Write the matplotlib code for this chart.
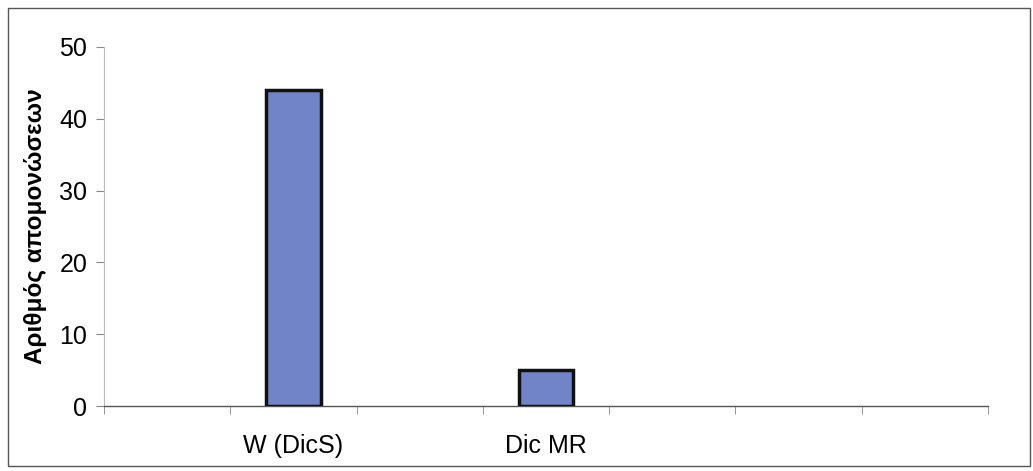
import matplotlib
matplotlib.use("Agg")
import matplotlib.pyplot as plt
from matplotlib.patches import Rectangle
import numpy as np

categories = ["", "W (DicS)", "", "Dic MR", "", "", ""]
values = [0, 44, 0, 5, 0, 0, 0]
yticks = [0, 10, 20, 30, 40, 50]
ylabel = "Αριθμός απομονώσεων"

plt.rcParams['font.family'] = ['Liberation Sans', 'DejaVu Sans']

fig = plt.figure(figsize=(10.33, 4.71), dpi=100)
ax = fig.add_axes([104/1033, 1-406/471, (988-104)/1033, (406-47)/471])

x = np.arange(len(categories))
mask = [v > 0 for v in values]
ax.bar(x[mask], np.array(values)[mask], width=0.43, color="#7184c8",
       edgecolor="#111111", linewidth=2.5, zorder=3)

ax.set_xlim(-0.5, len(categories) - 0.5)
ax.set_ylim(0, 50)
ax.set_yticks(yticks)
ax.set_xticks(x)
ax.set_xticklabels(categories, fontsize=18)
ax.set_xticks(np.arange(len(categories) + 1) - 0.5, minor=True)
ax.tick_params(axis="x", which="major", length=0, pad=20)
ax.tick_params(axis="x", which="minor", length=6, color="#888888", direction="out")
ax.tick_params(axis="y", length=6, color="#888888", labelsize=18, pad=6)
ax.set_ylabel(ylabel, fontsize=17.5, fontweight="bold", labelpad=9)

for s in ["top", "right"]:
    ax.spines[s].set_visible(False)
ax.spines["left"].set_color("#bbbbbb")
ax.spines["left"].set_linewidth(0.8)
ax.spines["bottom"].set_color("#555555")
ax.spines["bottom"].set_linewidth(1.0)

fig.patches.append(Rectangle((8/1033, 1-466/471), (1030-8)/1033, (466-8)/471,
                             transform=fig.transFigure, fill=False,
                             edgecolor="#555555", linewidth=1.0))

fig.savefig("out.png", dpi=100)
